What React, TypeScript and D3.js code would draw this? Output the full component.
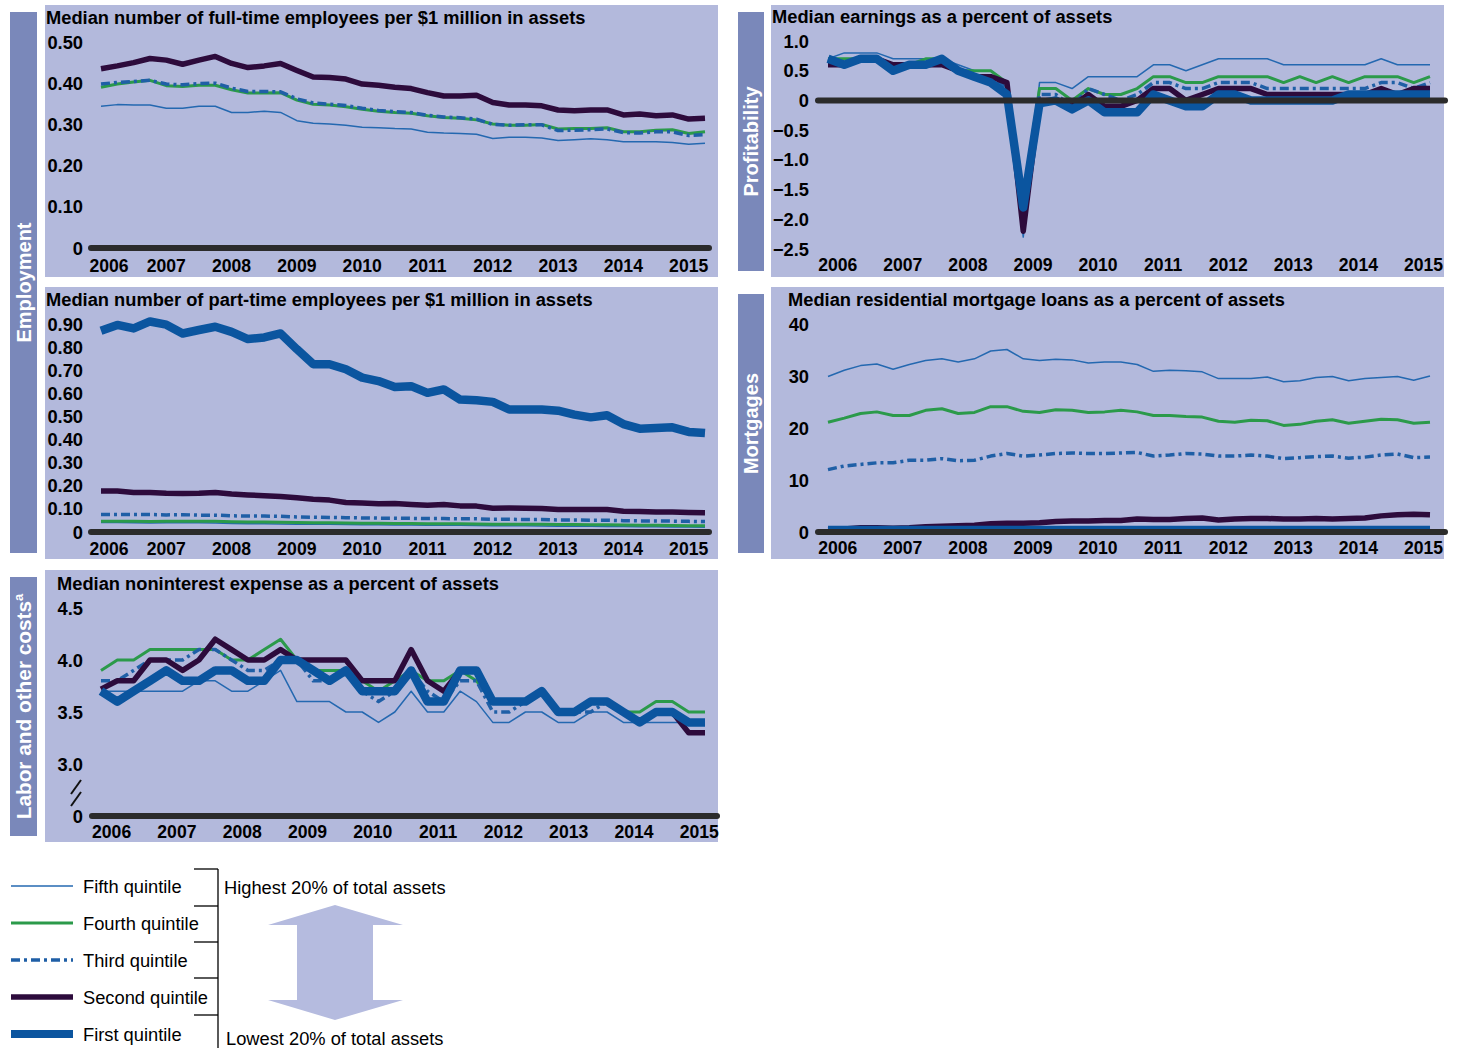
import React from "react";
import * as d3 from "d3";

// quarterly data, 2006 Q1 - 2015 Q2 (38 points per series)
const years = ["2006", "2007", "2008", "2009", "2010", "2011", "2012", "2013", "2014", "2015"];

// full-time employees per $1 million in assets
const fullTimeFifth = [0.344, 0.348, 0.347, 0.347, 0.339, 0.339, 0.344, 0.344, 0.329, 0.329, 0.332, 0.329, 0.309, 0.303, 0.301, 0.298, 0.293, 0.292, 0.29, 0.289, 0.281, 0.279, 0.278, 0.276, 0.266, 0.269, 0.269, 0.267, 0.261, 0.263, 0.265, 0.263, 0.258, 0.258, 0.258, 0.256, 0.252, 0.254];
const fullTimeFourth = [0.39, 0.398, 0.403, 0.407, 0.394, 0.392, 0.395, 0.395, 0.384, 0.376, 0.376, 0.377, 0.359, 0.349, 0.347, 0.343, 0.337, 0.332, 0.329, 0.327, 0.321, 0.317, 0.315, 0.311, 0.301, 0.298, 0.298, 0.3, 0.289, 0.29, 0.29, 0.292, 0.282, 0.282, 0.286, 0.287, 0.278, 0.282];
const fullTimeThird = [0.398, 0.402, 0.404, 0.407, 0.398, 0.396, 0.399, 0.4, 0.388, 0.38, 0.38, 0.379, 0.362, 0.352, 0.349, 0.346, 0.339, 0.334, 0.331, 0.329, 0.322, 0.318, 0.316, 0.313, 0.3, 0.298, 0.299, 0.299, 0.285, 0.286, 0.287, 0.289, 0.28, 0.279, 0.282, 0.282, 0.273, 0.275];
const fullTimeSecond = [0.435, 0.442, 0.45, 0.46, 0.456, 0.446, 0.456, 0.465, 0.448, 0.438, 0.442, 0.448, 0.431, 0.415, 0.414, 0.41, 0.398, 0.395, 0.39, 0.387, 0.377, 0.369, 0.369, 0.371, 0.353, 0.347, 0.347, 0.345, 0.335, 0.333, 0.335, 0.335, 0.323, 0.325, 0.321, 0.323, 0.313, 0.315];

// part-time employees per $1 million in assets
const partTimeFifth = [0.041, 0.041, 0.04, 0.039, 0.04, 0.04, 0.04, 0.039, 0.037, 0.036, 0.036, 0.035, 0.034, 0.033, 0.033, 0.032, 0.031, 0.031, 0.03, 0.03, 0.029, 0.029, 0.029, 0.028, 0.027, 0.027, 0.027, 0.026, 0.025, 0.025, 0.025, 0.024, 0.024, 0.023, 0.023, 0.022, 0.022, 0.021];
const partTimeFourth = [0.047, 0.047, 0.046, 0.045, 0.046, 0.046, 0.047, 0.046, 0.044, 0.043, 0.043, 0.042, 0.041, 0.04, 0.04, 0.039, 0.038, 0.038, 0.037, 0.037, 0.036, 0.036, 0.036, 0.035, 0.034, 0.034, 0.033, 0.033, 0.032, 0.032, 0.031, 0.031, 0.03, 0.029, 0.029, 0.028, 0.027, 0.027];
const partTimeThird = [0.076, 0.076, 0.076, 0.076, 0.074, 0.075, 0.073, 0.073, 0.07, 0.069, 0.069, 0.068, 0.065, 0.064, 0.063, 0.062, 0.061, 0.06, 0.06, 0.059, 0.058, 0.058, 0.057, 0.057, 0.055, 0.055, 0.054, 0.054, 0.052, 0.052, 0.051, 0.051, 0.049, 0.048, 0.048, 0.047, 0.046, 0.045];
const partTimeSecond = [0.177, 0.177, 0.171, 0.171, 0.168, 0.167, 0.168, 0.171, 0.164, 0.16, 0.157, 0.154, 0.148, 0.142, 0.138, 0.128, 0.125, 0.122, 0.123, 0.119, 0.116, 0.119, 0.113, 0.112, 0.103, 0.104, 0.103, 0.102, 0.097, 0.097, 0.097, 0.097, 0.09, 0.089, 0.087, 0.086, 0.084, 0.083];
const partTimeFirst = [0.871, 0.896, 0.881, 0.911, 0.897, 0.859, 0.874, 0.888, 0.866, 0.835, 0.842, 0.859, 0.791, 0.726, 0.726, 0.704, 0.668, 0.653, 0.627, 0.631, 0.602, 0.617, 0.573, 0.57, 0.563, 0.53, 0.53, 0.53, 0.525, 0.508, 0.496, 0.505, 0.467, 0.447, 0.45, 0.453, 0.433, 0.428];

// noninterest expense as a percent of assets
const nonintFifth = [3.7, 3.7, 3.7, 3.7, 3.7, 3.7, 3.8, 3.8, 3.7, 3.7, 3.8, 3.9, 3.6, 3.6, 3.6, 3.5, 3.5, 3.4, 3.5, 3.7, 3.5, 3.5, 3.7, 3.6, 3.4, 3.4, 3.5, 3.5, 3.4, 3.4, 3.5, 3.5, 3.4, 3.4, 3.4, 3.4, 3.4, 3.4];
const nonintFourth = [3.9, 4.0, 4.0, 4.1, 4.1, 4.1, 4.1, 4.1, 4.0, 4.0, 4.1, 4.2, 4.0, 3.9, 3.9, 3.9, 3.8, 3.7, 3.8, 3.9, 3.8, 3.8, 3.9, 3.8, 3.6, 3.6, 3.6, 3.7, 3.5, 3.5, 3.6, 3.6, 3.5, 3.5, 3.6, 3.6, 3.5, 3.5];
const nonintThird = [3.8, 3.8, 3.9, 4.0, 4.0, 4.0, 4.1, 4.1, 4.0, 3.9, 3.9, 4.0, 4.0, 3.8, 3.8, 3.9, 3.7, 3.6, 3.7, 3.9, 3.7, 3.6, 3.8, 3.8, 3.5, 3.5, 3.6, 3.7, 3.5, 3.5, 3.5, 3.6, 3.5, 3.4, 3.5, 3.5, 3.4, 3.4];
const nonintSecond = [3.72, 3.8, 3.8, 4.0, 4.0, 3.9, 4.0, 4.2, 4.1, 4.0, 4.0, 4.1, 4.0, 4.0, 4.0, 4.0, 3.8, 3.8, 3.8, 4.1, 3.8, 3.7, 3.9, 3.9, 3.6, 3.6, 3.6, 3.7, 3.5, 3.5, 3.6, 3.6, 3.5, 3.4, 3.5, 3.5, 3.3, 3.3];
const nonintFirst = [3.7, 3.6, 3.7, 3.8, 3.9, 3.8, 3.8, 3.9, 3.9, 3.8, 3.8, 4.0, 4.0, 3.9, 3.8, 3.9, 3.7, 3.7, 3.7, 3.9, 3.6, 3.6, 3.9, 3.9, 3.6, 3.6, 3.6, 3.7, 3.5, 3.5, 3.6, 3.6, 3.5, 3.4, 3.5, 3.5, 3.4, 3.4];

// earnings as a percent of assets
const earnFifth = [0.7, 0.8, 0.8, 0.8, 0.7, 0.7, 0.7, 0.7, 0.6, 0.5, 0.5, 0.3, -2.3, 0.3, 0.3, 0.2, 0.4, 0.4, 0.4, 0.4, 0.6, 0.6, 0.5, 0.6, 0.7, 0.7, 0.7, 0.7, 0.6, 0.6, 0.6, 0.6, 0.6, 0.6, 0.7, 0.6, 0.6, 0.6];
const earnFourth = [0.7, 0.7, 0.7, 0.7, 0.6, 0.6, 0.7, 0.7, 0.5, 0.5, 0.5, 0.3, -1.6, 0.2, 0.2, 0.0, 0.2, 0.1, 0.1, 0.2, 0.4, 0.4, 0.3, 0.3, 0.4, 0.4, 0.4, 0.4, 0.3, 0.4, 0.3, 0.4, 0.3, 0.4, 0.4, 0.4, 0.3, 0.4];
const earnThird = [0.7, 0.6, 0.7, 0.7, 0.6, 0.6, 0.6, 0.7, 0.5, 0.4, 0.4, 0.2, -1.9, 0.1, 0.1, -0.1, 0.2, 0.1, 0.0, 0.1, 0.3, 0.3, 0.2, 0.2, 0.3, 0.3, 0.3, 0.2, 0.2, 0.2, 0.2, 0.2, 0.2, 0.2, 0.3, 0.3, 0.2, 0.3];
const earnSecond = [0.6, 0.6, 0.7, 0.7, 0.6, 0.6, 0.6, 0.6, 0.5, 0.4, 0.4, 0.3, -2.2, 0.0, 0.0, -0.1, 0.1, -0.1, -0.1, 0.0, 0.2, 0.2, 0.0, 0.1, 0.2, 0.2, 0.2, 0.1, 0.1, 0.1, 0.1, 0.1, 0.1, 0.1, 0.2, 0.1, 0.2, 0.2];
const earnFirst = [0.7, 0.6, 0.7, 0.7, 0.5, 0.6, 0.6, 0.7, 0.5, 0.4, 0.3, 0.1, -1.8, -0.05, 0.0, -0.15, 0.0, -0.2, -0.2, -0.2, 0.1, 0.0, -0.1, -0.1, 0.1, 0.1, 0.0, 0.0, 0.0, 0.0, 0.0, 0.0, 0.1, 0.1, 0.1, 0.1, 0.1, 0.1];

// residential mortgage loans as a percent of assets
const mortFifth = [29.9, 31.1, 32.0, 32.3, 31.3, 32.2, 33.0, 33.3, 32.7, 33.3, 34.8, 35.1, 33.3, 33.0, 33.2, 33.1, 32.5, 32.7, 32.7, 32.2, 30.9, 31.1, 31.0, 30.8, 29.5, 29.5, 29.5, 29.8, 28.9, 29.1, 29.7, 29.9, 29.1, 29.5, 29.7, 29.9, 29.2, 30.0];
const mortFourth = [21.1, 21.9, 22.8, 23.1, 22.4, 22.4, 23.4, 23.7, 22.8, 23.0, 24.1, 24.1, 23.2, 23.0, 23.5, 23.4, 23.0, 23.1, 23.4, 23.1, 22.4, 22.4, 22.2, 22.1, 21.3, 21.1, 21.5, 21.4, 20.5, 20.7, 21.3, 21.6, 20.9, 21.3, 21.7, 21.6, 20.9, 21.1];
const mortThird = [12.0, 12.7, 13.0, 13.3, 13.3, 13.8, 13.8, 14.1, 13.7, 13.8, 14.6, 15.1, 14.6, 14.8, 15.1, 15.2, 15.1, 15.1, 15.2, 15.3, 14.6, 14.8, 15.1, 15.0, 14.6, 14.6, 14.8, 14.6, 14.1, 14.3, 14.5, 14.6, 14.2, 14.4, 14.8, 15.0, 14.3, 14.4];
const mortSecond = [0.5, 0.6, 0.8, 0.8, 0.7, 0.8, 1.0, 1.1, 1.2, 1.3, 1.6, 1.7, 1.7, 1.8, 2.0, 2.1, 2.1, 2.2, 2.2, 2.5, 2.4, 2.4, 2.6, 2.7, 2.3, 2.5, 2.6, 2.6, 2.5, 2.5, 2.6, 2.5, 2.6, 2.7, 3.1, 3.3, 3.4, 3.3];
const mortFirst = [0.4, 0.4, 0.4, 0.4, 0.4, 0.4, 0.4, 0.4, 0.4, 0.4, 0.4, 0.4, 0.4, 0.4, 0.4, 0.4, 0.4, 0.4, 0.4, 0.4, 0.4, 0.4, 0.4, 0.4, 0.4, 0.4, 0.4, 0.4, 0.4, 0.4, 0.4, 0.4, 0.4, 0.4, 0.4, 0.4, 0.4, 0.4];

const FONT = "'Liberation Sans', Arial, Helvetica, sans-serif";
const BG = "#b3b9dc";
const BAND = "#7a88ba";

type QKey = "fifth" | "fourth" | "third" | "second" | "first";

const quintiles: { key: QKey; label: string; color: string; width: number; dash?: string }[] = [
  { key: "fifth", label: "Fifth quintile", color: "#2468b0", width: 1.5 },
  { key: "fourth", label: "Fourth quintile", color: "#2b9a4a", width: 3 },
  { key: "third", label: "Third quintile", color: "#1f5fa6", width: 3.5, dash: "9,4,3,4" },
  { key: "second", label: "Second quintile", color: "#2d0b3c", width: 5.5 },
  { key: "first", label: "First quintile", color: "#0b559f", width: 8.5 },
];
const styleOf = (k: QKey) => quintiles.find((q) => q.key === k)!;

interface PanelSpec {
  title: string;
  titleX: number;
  titleY: number;
  box: [number, number, number, number];
  xRange: [number, number];
  yDomain: [number, number];
  yRange: [number, number];
  yTicks: number[];
  yFormat: (v: number) => string;
  yLabelX: number;
  xLabelY: number;
  yearOffset: number;
  clampFirstYear: boolean;
  zeroX: [number, number];
  zeroValue: number;
  breakMark?: boolean;
  series: { key: QKey; values: number[] }[];
}

const fmt = (spec: string) => (v: number) => (v === 0 ? "0" : d3.format(spec)(v));

const panels: PanelSpec[] = [
  {
    title: "Median number of full-time employees per $1 million in assets",
    titleX: 46, titleY: 24,
    box: [45, 5, 673, 272],
    xRange: [101, 705],
    yDomain: [0, 0.5], yRange: [248, 42],
    yTicks: [0, 0.1, 0.2, 0.3, 0.4, 0.5], yFormat: fmt(".2f"),
    yLabelX: 83, xLabelY: 272, yearOffset: 0, clampFirstYear: true,
    zeroX: [91, 709], zeroValue: 0,
    series: [
      { key: "fifth", values: fullTimeFifth },
      { key: "fourth", values: fullTimeFourth },
      { key: "third", values: fullTimeThird },
      { key: "second", values: fullTimeSecond },
    ],
  },
  {
    title: "Median number of part-time employees per $1 million in assets",
    titleX: 46, titleY: 306,
    box: [45, 287, 673, 272],
    xRange: [101, 705],
    yDomain: [0, 0.9], yRange: [532, 324],
    yTicks: [0, 0.1, 0.2, 0.3, 0.4, 0.5, 0.6, 0.7, 0.8, 0.9], yFormat: fmt(".2f"),
    yLabelX: 83, xLabelY: 555, yearOffset: 0, clampFirstYear: true,
    zeroX: [91, 709], zeroValue: 0,
    series: [
      { key: "fifth", values: partTimeFifth },
      { key: "fourth", values: partTimeFourth },
      { key: "third", values: partTimeThird },
      { key: "second", values: partTimeSecond },
      { key: "first", values: partTimeFirst },
    ],
  },
  {
    title: "Median noninterest expense as a percent of assets",
    titleX: 57, titleY: 590,
    box: [45, 570, 673, 272],
    xRange: [101, 705],
    // broken axis: the zero line sits where 2.5 would be
    yDomain: [2.5, 4.5], yRange: [816, 608],
    yTicks: [2.5, 3, 3.5, 4, 4.5], yFormat: (v) => (v === 2.5 ? "0" : d3.format(".1f")(v)),
    yLabelX: 83, xLabelY: 838, yearOffset: 0.65, clampFirstYear: false,
    zeroX: [92, 717], zeroValue: 2.5, breakMark: true,
    series: [
      { key: "fifth", values: nonintFifth },
      { key: "fourth", values: nonintFourth },
      { key: "third", values: nonintThird },
      { key: "second", values: nonintSecond },
      { key: "first", values: nonintFirst },
    ],
  },
  {
    title: "Median earnings as a percent of assets",
    titleX: 772, titleY: 23,
    box: [771, 5, 673, 272],
    xRange: [828, 1430],
    yDomain: [-2.5, 1], yRange: [249, 41],
    yTicks: [-2.5, -2, -1.5, -1, -0.5, 0, 0.5, 1], yFormat: fmt(".1f"),
    yLabelX: 809, xLabelY: 271, yearOffset: 0.6, clampFirstYear: false,
    zeroX: [818, 1445], zeroValue: 0,
    series: [
      { key: "fifth", values: earnFifth },
      { key: "fourth", values: earnFourth },
      { key: "third", values: earnThird },
      { key: "second", values: earnSecond },
      { key: "first", values: earnFirst },
    ],
  },
  {
    title: "Median residential mortgage loans as a percent of assets",
    titleX: 788, titleY: 306,
    box: [771, 287, 673, 272],
    xRange: [828, 1430],
    yDomain: [0, 40], yRange: [532, 324],
    yTicks: [0, 10, 20, 30, 40], yFormat: (v) => String(v),
    yLabelX: 809, xLabelY: 554, yearOffset: 0.6, clampFirstYear: false,
    zeroX: [818, 1445], zeroValue: 0,
    series: [
      { key: "fifth", values: mortFifth },
      { key: "fourth", values: mortFourth },
      { key: "third", values: mortThird },
      { key: "second", values: mortSecond },
      { key: "first", values: mortFirst },
    ],
  },
];

const bands = [
  { label: "Employment", x: 10, y: 12, w: 27, h: 541, sup: "" },
  { label: "Labor and other costs", x: 10, y: 577, w: 27, h: 259, sup: "a" },
  { label: "Profitability", x: 738, y: 12, w: 26, h: 259, sup: "" },
  { label: "Mortgages", x: 738, y: 294, w: 26, h: 259, sup: "" },
];

function Panel({ p }: { p: PanelSpec }) {
  const n = p.series[0].values.length;
  const x = d3.scaleLinear().domain([0, n - 1]).range(p.xRange);
  const y = d3.scaleLinear().domain(p.yDomain).range(p.yRange);
  const line = d3
    .line<number>()
    .x((_, i) => x(i))
    .y((d) => y(d));
  const [bx, by, bw, bh] = p.box;
  const zeroY = y(p.zeroValue);

  return (
    <g>
      <rect x={bx} y={by} width={bw} height={bh} fill={BG} />
      <text x={p.titleX} y={p.titleY} fontSize={18.3} fontWeight="bold" fill="#000">
        {p.title}
      </text>
      {p.yTicks.map((t) => (
        <text
          key={t}
          x={p.yLabelX}
          y={y(t)}
          dy="0.36em"
          textAnchor="end"
          fontSize={18.3}
          fontWeight="bold"
        >
          {p.yFormat(t)}
        </text>
      ))}
      {years.map((yr, k) => {
        let cx = x(4 * k + p.yearOffset);
        if (p.clampFirstYear && k === 0) cx = Math.max(cx, p.zeroX[0] + 18);
        return (
          <text key={yr} x={cx} y={p.xLabelY} textAnchor="middle" fontSize={17.6} fontWeight="bold">
            {yr}
          </text>
        );
      })}
      {p.series.map((s) => {
        const st = styleOf(s.key);
        return (
          <path
            key={s.key}
            d={line(s.values) ?? ""}
            fill="none"
            stroke={st.color}
            strokeWidth={st.width}
            strokeDasharray={st.dash}
            strokeLinejoin="round"
          />
        );
      })}
      <line
        x1={p.zeroX[0]}
        x2={p.zeroX[1]}
        y1={zeroY}
        y2={zeroY}
        stroke="#2b2b2b"
        strokeWidth={6}
        strokeLinecap="round"
      />
      {p.breakMark && (
        <g stroke="#111" strokeWidth={2}>
          <line x1={71} y1={794} x2={81} y2={780} />
          <line x1={71} y1={806} x2={81} y2={792} />
        </g>
      )}
    </g>
  );
}

function Legend() {
  const rows = [...quintiles];
  const rowY = d3.scalePoint<string>().domain(rows.map((r) => r.key)).range([886, 1034]);
  const brackets = [869, 906, 942, 978, 1015];
  return (
    <g fontFamily={FONT}>
      {rows.map((r) => (
        <g key={r.key}>
          <line
            x1={11}
            x2={73}
            y1={rowY(r.key)}
            y2={rowY(r.key)}
            stroke={r.color}
            strokeWidth={r.key === "first" ? 8 : r.width}
            strokeDasharray={r.dash}
          />
          <text x={83} y={rowY(r.key)} dy="0.36em" fontSize={18.3}>
            {r.label}
          </text>
        </g>
      ))}
      <g stroke="#000" strokeWidth={1.3}>
        <line x1={218} x2={218} y1={869} y2={1048} />
        {brackets.map((b) => (
          <line key={b} x1={194} x2={218} y1={b} y2={b} />
        ))}
      </g>
      <text x={224} y={887} dy="0.36em" fontSize={18.3}>
        Highest 20% of total assets
      </text>
      <text x={226} y={1038} dy="0.36em" fontSize={18.3}>
        Lowest 20% of total assets
      </text>
      <polygon
        points="335,905 403,925 373,925 373,1000 403,1000 335,1020 268,1000 297,1000 297,925 268,925"
        fill="#b5bbdf"
      />
    </g>
  );
}

export default function App() {
  return (
    <svg
      width={1460}
      height={1048}
      style={{ position: "absolute", left: 0, top: 0, background: "#fff" }}
      fontFamily={FONT}
    >
      {panels.map((p) => (
        <Panel key={p.title} p={p} />
      ))}
      {bands.map((b) => {
        const cx = b.x + b.w / 2;
        const cy = b.y + b.h / 2;
        return (
          <g key={b.label}>
            <rect x={b.x} y={b.y} width={b.w} height={b.h} fill={BAND} />
            <text
              transform={`translate(${cx},${cy}) rotate(-90)`}
              textAnchor="middle"
              dy="0.36em"
              fill="#fff"
              fontSize={b.sup ? 20.8 : 20}
              fontWeight="bold"
            >
              {b.label}
              {b.sup && (
                <tspan fontSize={13} dy="-0.6em">
                  {b.sup}
                </tspan>
              )}
            </text>
          </g>
        );
      })}
      <Legend />
    </svg>
  );
}
